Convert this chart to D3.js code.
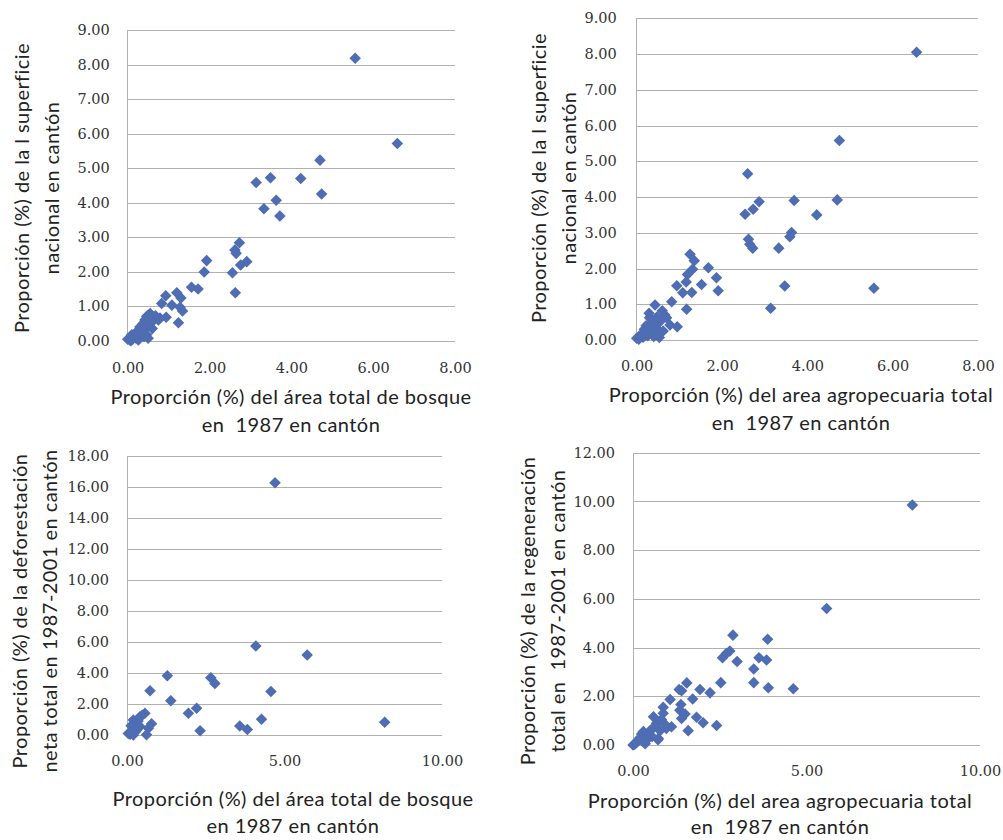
<!DOCTYPE html>
<html><head><meta charset="utf-8">
<script src="https://cdn.jsdelivr.net/npm/d3@7"></script>
<style>
body{margin:0;background:#fff;}
svg{display:block;}
text{white-space:pre;}
</style></head>
<body>
<svg id="c" width="1003" height="840"></svg>
<script>
// ---------- DATA ----------
// Panel 1: forest area share 1987 (x) vs national surface share (y)
const forestVsSurface = [
[5.56,8.18],[6.59,5.71],[4.70,5.23],[4.74,4.25],[4.23,4.70],[3.49,4.72],[3.14,4.58],[3.63,4.07],
[3.33,3.82],[3.72,3.61],[2.73,2.84],[2.62,2.63],[2.65,2.53],[2.91,2.29],[2.76,2.19],[2.56,1.97],
[2.63,1.39],[1.93,2.32],[1.87,1.99],[1.56,1.55],[1.72,1.50],[1.20,1.39],[0.93,1.30],[1.30,1.24],
[0.83,1.08],[1.08,1.03],[1.28,0.97],[1.34,0.86],[1.24,0.52],[0.94,0.68],[0.75,0.60],[0.79,0.66],
[0.55,0.79],[0.50,0.74],[0.46,0.70],[0.42,0.60],[0.38,0.50],[0.60,0.55],[0.52,0.45],[0.30,0.40],
[0.44,0.35],[0.60,0.35],[0.35,0.30],[0.22,0.26],[0.28,0.18],[0.10,0.17],[0.46,0.17],[0.16,0.10],
[0.00,0.04],[0.05,0.02],[0.26,0.02],[0.50,0.07],[0.40,0.12],[0.12,0.05],[0.34,0.22],[0.48,0.55],
[0.68,0.72],[0.56,0.62],[0.20,0.08],[0.08,0.00]
];
// Panel 2: agricultural area share 1987 (x) vs national surface share (y)
const agroVsSurface = [
[6.56,8.05],[4.75,5.58],[2.60,4.65],[4.70,3.92],[3.69,3.90],[2.87,3.87],[2.73,3.66],[2.54,3.52],
[4.22,3.50],[3.63,3.01],[3.59,2.89],[2.62,2.82],[2.65,2.68],[2.72,2.57],[3.33,2.57],[3.47,1.51],
[3.14,0.89],[5.56,1.45],[1.25,2.40],[1.35,2.22],[1.68,2.02],[1.31,1.98],[1.19,1.83],[1.87,1.74],
[1.16,1.62],[1.91,1.38],[1.52,1.55],[0.94,1.52],[1.08,1.32],[1.29,1.33],[0.82,1.07],[1.17,0.86],
[0.95,0.37],[0.43,0.98],[0.29,0.75],[0.60,0.82],[0.70,0.62],[0.55,0.52],[0.78,0.42],[0.53,0.07],
[0.47,0.33],[0.33,0.45],[0.18,0.30],[0.11,0.17],[0.00,0.05],[0.05,0.02],[0.22,0.40],[0.38,0.20],
[0.26,0.12],[0.15,0.08],[0.42,0.55],[0.30,0.62],[0.62,0.25],[0.50,0.18],[0.36,0.30],[0.20,0.22],
[0.08,0.10],[0.66,0.70],[0.48,0.65],[0.40,0.10]
];
// Panel 3: forest area share 1987 (x) vs net deforestation share 1987-2001 (y)
const forestVsDeforest = [
[4.70,16.28],[4.09,5.74],[5.72,5.16],[1.28,3.82],[2.66,3.70],[2.79,3.33],[0.73,2.86],[4.57,2.80],
[1.39,2.21],[2.21,1.72],[1.95,1.40],[4.27,1.01],[3.58,0.58],[3.82,0.35],[2.32,0.27],[8.18,0.82],
[0.78,0.73],[0.57,1.40],[0.48,1.28],[0.41,1.18],[0.20,0.97],[0.31,0.71],[0.13,0.60],[0.68,0.43],
[0.62,0.02],[0.31,0.32],[0.41,0.55],[0.04,0.10],[0.20,0.00],[0.10,0.05],[0.26,0.20],[0.35,0.90]
];
// Panel 4: agricultural area share 1987 (x) vs total regeneration share 1987-2001 (y)
const agroVsRegen = [
[8.05,9.85],[5.58,5.60],[2.88,4.51],[3.88,4.34],[2.79,3.86],[2.69,3.76],[2.58,3.58],[3.00,3.43],
[3.63,3.58],[3.85,3.49],[3.48,3.12],[3.48,2.56],[3.90,2.35],[4.62,2.31],[2.53,2.56],[1.55,2.55],
[1.33,2.28],[1.40,2.23],[1.93,2.28],[2.22,2.14],[1.72,1.89],[1.07,1.87],[0.87,1.55],[1.38,1.66],
[1.35,1.43],[1.50,1.27],[1.83,1.14],[1.40,1.09],[2.02,0.91],[2.41,0.80],[1.59,0.59],[1.11,0.75],
[0.59,1.16],[0.87,1.30],[0.72,0.22],[0.96,0.68],[0.68,0.89],[0.78,0.59],[0.73,0.27],[0.30,0.55],
[0.20,0.30],[0.00,0.00],[0.39,0.20],[0.10,0.10],[0.25,0.45],[0.45,0.50],[0.55,0.35],[0.35,0.05],
[0.15,0.20],[0.50,0.60],[0.82,1.05],[0.62,0.75],[0.40,0.35],[0.05,0.03],[0.28,0.15],[0.92,0.85]
];
// tick labels
const yTicks1 = [0,1,2,3,4,5,6,7,8,9];
const xTicks1 = [0,2,4,6,8];
const yTicks3 = [0,2,4,6,8,10,12,14,16,18];
const yTicks4 = [0,2,4,6,8,10,12];
const xTicks3 = [0,5,10];
// titles
const xTitleForest = ["Proporción (%) del área total de bosque","en  1987 en cantón"];
const xTitleForest2 = ["Proporción (%) del área total de bosque","en 1987 en cantón"];
const xTitleAgro = ["Proporción (%) del area agropecuaria total","en  1987 en cantón"];
const yTitleSurface = ["Proporción (%) de la l superficie","nacional en cantón"];
const yTitleDeforest = ["Proporción (%) de la deforestación","neta total en 1987-2001 en cantón"];
const yTitleRegen = ["Proporción (%) de la regeneración","total en  1987-2001 en cantón"];

// ---------- DRAW ----------
const svg = d3.select("#c");
const COLOR = "#4f6db2";
const GRID = "#b0b0b0";
const fmt = d3.format(".2f");
const TFONT = "Lato", TSIZE = 20, TLS = "0.45px";

function panel(o){
  const x = d3.scaleLinear().domain(o.xd).range([o.l, o.r]);
  const y = d3.scaleLinear().domain(o.yd).range([o.b, o.t]);
  const g = svg.append("g");
  g.append("g").attr("transform",`translate(${o.l},0)`)
    .call(d3.axisLeft(y).tickValues(o.yt).tickSize(-(o.r-o.l)).tickFormat(fmt).tickPadding(o.ypad))
    .call(s=>{
      s.select(".domain").remove();
      s.selectAll(".tick line").attr("stroke",GRID).attr("shape-rendering","crispEdges");
      s.selectAll(".tick text").attr("font-family","DejaVu Serif").attr("font-size",14.5).attr("fill","#333");
    });
  g.append("line").attr("x1",o.l).attr("x2",o.l).attr("y1",o.t).attr("y2",o.b)
    .attr("stroke",GRID).attr("shape-rendering","crispEdges");
  g.append("g").attr("transform",`translate(0,${o.b})`)
    .call(d3.axisBottom(x).tickValues(o.xt).tickSize(0).tickFormat(fmt).tickPadding(o.xpad))
    .call(s=>{
      s.select(".domain").remove();
      s.selectAll(".tick text").attr("font-family","DejaVu Serif").attr("font-size",14.5).attr("fill","#333");
    });
  const sym = d3.symbol().type(d3.symbolDiamond2).size(o.ms);
  g.append("g").selectAll("path").data(o.data).join("path")
    .attr("d",sym).attr("fill",COLOR)
    .attr("transform",d=>`translate(${x(d[0])},${y(d[1])})`);
  o.xtitle.forEach((t,i)=>{
    g.append("text").attr("x",o.xtx).attr("y",o.xty + i*o.xgap).attr("text-anchor","middle")
      .attr("font-family",TFONT).attr("font-size",TSIZE).attr("letter-spacing",TLS).attr("fill","#222").text(t);
  });
  o.ytitle.forEach((t,i)=>{
    g.append("text").attr("transform",`translate(${o.ytx + i*30},${o.yty}) rotate(-90)`)
      .attr("text-anchor","middle").attr("font-family",TFONT).attr("font-size",TSIZE).attr("letter-spacing",TLS)
      .attr("fill","#222").text(t);
  });
}

panel({l:127.7,r:455,t:30,b:340.7,xd:[0,8],yd:[0,9],xt:xTicks1,yt:yTicks1,ypad:18,xpad:22,ms:85,
  data:forestVsSurface,xtitle:xTitleForest,xtx:291,xty:404,xgap:28,ytitle:yTitleSurface,ytx:29,yty:188});
panel({l:636.7,r:978,t:18.3,b:340,xd:[0,8],yd:[0,9],xt:xTicks1,yt:yTicks1,ypad:20,xpad:21,ms:85,
  data:agroVsSurface,xtitle:xTitleAgro,xtx:801,xty:402,xgap:28,ytitle:yTitleSurface,ytx:546,yty:178});
panel({l:127,r:442,t:456,b:735,xd:[0,10],yd:[0,18],xt:xTicks3,yt:yTicks3,ypad:18,xpad:21,ms:85,
  data:forestVsDeforest,xtitle:xTitleForest2,xtx:293,xty:806,xgap:27,ytitle:yTitleDeforest,ytx:27,yty:611});
panel({l:633,r:980,t:452.7,b:745,xd:[0,10],yd:[0,12],xt:xTicks3,yt:yTicks4,ypad:18,xpad:21,ms:85,
  data:agroVsRegen,xtitle:xTitleAgro,xtx:780,xty:808,xgap:26,ytitle:yTitleRegen,ytx:535,yty:611});
</script>
</body></html>
